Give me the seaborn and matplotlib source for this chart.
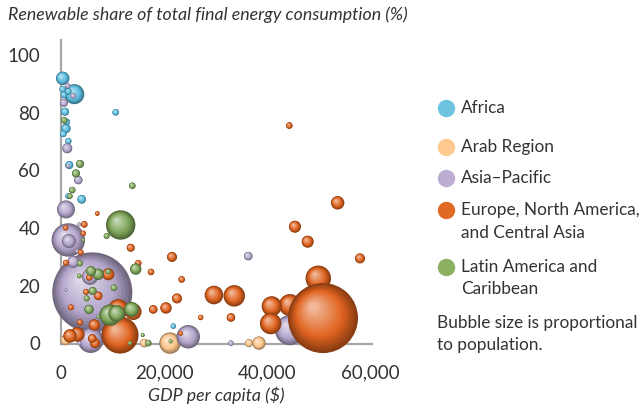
import numpy as np
import pandas as pd
import seaborn as sns
import matplotlib.pyplot as plt
from matplotlib.colors import to_rgb

# data: GDP per capita ($), renewable share (%), population (millions, from bubble area)
# rows are in drawing order (later rows sit on top)
africa_gdp = [2580, 330, 970, 4020, 780, 1610, 330, 1420, 580, 1110, 450, 1420, 10620, 3830, 1420, 21810]
africa_share = [86.4, 91.9, 74.5, 49.9, 80.3, 61.8, 88.1, 87.3, 86.1, 76.8, 72.6, 70.1, 80.1, 62.4, 51.0, 5.9]
africa_pop = [26, 11.7, 5.7, 4.8, 4.2, 4.2, 2.8, 2.8, 2.8, 2.8, 2.8, 2.8, 2.8, 2.3, 2.3, 1.9]

arab_gdp = [21170, 36510, 38450, 870, 16180]
arab_share = [0, 0, 0, 1.0, 0]
arab_pop = [29.8, 4.2, 11.7, 6.5, 4.8]

asia_gdp = [6080, 1420, 44470, 5770, 24720, 970, 5630, 1550, 2390, 1220, 3360, 36370, 580,
            33010, 1300, 2390, 1420, 3550, 3170, 3550, 970]
asia_share = [17.6, 35.8, 4.5, 1.0, 2.2, 46.4, 23.0, 35.4, 28.2, 67.6, 56.6, 30.2, 83.4,
              0, 89.3, 85.8, 61.5, 41.2, 31.9, 0, 18.4]
asia_pop = [416, 72.5, 58.5, 42, 35.6, 21, 16.6, 12.7, 9.4, 6.5, 4.8, 4.8, 4.2,
            1.9, 1.9, 1.9, 1.0, 1.0, 1.0, 1.0, 0.6]

europe_gdp = [11460, 49970, 44470, 33650, 40920, 40720, 11130, 29710, 14040, 3170, 53730, 1750,
              45440, 47910, 9190, 20390, 6470, 58070, 21560, 22530, 6600, 33010, 17920, 7240,
              6080, 13540, 44340, 23440, 15010, 17480, 5500, 4530, 4860, 1940, 3690, 3830,
              970, 27130, 4330, 910, 23250, 7050, 50880]
europe_share = [2.8, 22.5, 13.2, 16.4, 12.8, 6.8, 11.8, 16.7, 10.9, 3.0, 48.7, 2.5,
                40.4, 35.2, 23.9, 12.2, 6.3, 29.4, 29.9, 15.5, 0, 8.9, 11.7, 16.4,
                1.6, 33.1, 75.5, 22.1, 27.7, 24.7, 22.8, 41.2, 17.8, 12.4, 7.2, 31.5,
                27.9, 8.9, 38.1, 40.0, 3.4, 45.0, 8.7]
europe_pop = [89, 42, 31.5, 29.8, 26, 29.8, 26, 22.5, 17.9, 13.9, 11.7, 11.7,
              9.4, 9.4, 9.4, 8.4, 8.4, 6.5, 6.5, 6.5, 6.5, 4.8, 4.8, 4.8,
              4.8, 4.2, 2.8, 2.8, 2.8, 2.8, 2.8, 2.8, 2.3, 2.3, 2.3, 2.3,
              2.3, 1.9, 1.9, 1.9, 1.4, 1.4, 318]

latin_gdp = [11590, 9520, 10820, 13730, 14510, 7240, 5830, 5440, 6160, 3690, 2910, 10290, 16950,
             13850, 2190, 640, 3690, 4990, 8870, 9190, 1750, 3550, 15870, 13400, 21300, 7240, 4330]
latin_share = [41.0, 9.7, 10.3, 11.7, 25.7, 23.9, 25.0, 11.7, 18.1, 62.2, 58.9, 19.2, 0,
               54.6, 53.1, 77.3, 27.7, 15.5, 37.2, 24.8, 51.0, 23.3, 2.8, 0, 0.6, 9.1, 35.8]
latin_pop = [56, 29.8, 17.9, 14.6, 8.4, 8.4, 6.5, 5.7, 4.2, 4.2, 4.2, 2.8, 2.8,
             2.8, 2.8, 2.8, 2.3, 2.3, 2.3, 1.9, 1.9, 1.4, 1.0, 1.0, 1.0, 0.75, 0.75]

regions = ['Africa', 'Arab Region', 'Asia\u2013Pacific',
           'Europe, North America,\nand Central Asia', 'Latin America and\nCaribbean']
region_colors = ['#5bbde0', '#fcc68a', '#b4a6cc', '#e0631f', '#7ea65a']
legend_colors = ['#6ec4e0', '#fdc98f', '#bcaed3', '#e06a24', '#8bb062']

x_ticks = [0, 20000, 40000, 60000]
y_ticks = [0, 20, 40, 60, 80, 100]

frames = []
for name, g, s, p in zip(regions,
                         [africa_gdp, arab_gdp, asia_gdp, europe_gdp, latin_gdp],
                         [africa_share, arab_share, asia_share, europe_share, latin_share],
                         [africa_pop, arab_pop, asia_pop, europe_pop, latin_pop]):
    frames.append(pd.DataFrame({'region': name, 'gdp': g, 'share': s, 'pop': p}))
df = pd.concat(frames, ignore_index=True)

sns.set_style('white')
plt.rcParams['font.family'] = ['Lato', 'DejaVu Sans']

W, H, DPI = 643, 412, 100
fig = plt.figure(figsize=(W / DPI, H / DPI), dpi=DPI)
ax_box = [61 / W, 1 - 344 / H, 311 / W, 304 / H]
ax = fig.add_axes(ax_box)
xlim = (0, 60400)
ylim = (-0.3, 105.2)

# fake sphere shading: every bubble is drawn as a stack of shrinking, lighter discs
pt_per_pop = 8.0
n_layers = 14
ux = (xlim[1] - xlim[0]) / (ax_box[2] * W)
uy = (ylim[1] - ylim[0]) / (ax_box[3] * H)


def shade(base, u):
    b = np.array(to_rgb(base))
    dark = b * 0.62
    light = b * 0.45 + 0.55
    if u < 0.35:
        c = dark + (b - dark) * (u / 0.35)
    else:
        c = b + (light - b) * ((u - 0.35) / 0.65)
    return tuple(np.clip(c, 0, 1))


palette = {}
rows = []
for r in df.itertuples():
    base = region_colors[regions.index(r.region)]
    r_px = np.sqrt(pt_per_pop * r.pop) / 2 / 0.72
    for j in range(n_layers):
        u = j / (n_layers - 1)
        key = f'{r.region}|{j}'
        palette[key] = shade(base, u)
        rf = 1 - 0.88 * u
        rows.append({'gdp': r.gdp - 0.28 * u * r_px * ux,
                     'share': r.share + 0.32 * u * r_px * uy,
                     'area': r.pop * rf ** 2,
                     'shade': key})
layers = pd.DataFrame(rows)
max_area = df['pop'].max()

sns.scatterplot(data=layers, x='gdp', y='share', hue='shade', palette=palette,
                size='area', sizes=(0, pt_per_pop * max_area), size_norm=(0, max_area),
                linewidth=0, legend=False, clip_on=False, ax=ax)

ax.set_xlim(*xlim)
ax.set_ylim(*ylim)
ax.set_xticks(x_ticks)
ax.set_xticklabels([f'{v:,}' for v in x_ticks])
ax.set_yticks(y_ticks)
ax.tick_params(length=0, labelsize=13.5, labelcolor='#333333')
ax.tick_params(axis='x', pad=15)
ax.tick_params(axis='y', pad=15)
sns.despine(ax=ax)
for side in ['left', 'bottom']:
    ax.spines[side].set_color('#a6a6a6')
    ax.spines[side].set_linewidth(1.6)
    ax.spines[side].set_zorder(0)
ax.set_ylabel('')
ax.set_xlabel('GDP per capita ($)', fontsize=12.8, style='italic', color='#333333', labelpad=3)

fig.text(8 / W, 1 - 15 / H, 'Renewable share of total final energy consumption (%)',
         fontsize=12.8, style='italic', color='#333333', va='center', ha='left')

# legend built by hand
legend_y = [108, 147, 178, 210, 267]
for name, c, y in zip(regions, legend_colors, legend_y):
    ax.plot([446 / W], [1 - y / H], marker='o', markersize=11.5, color=c,
            transform=fig.transFigure, clip_on=False)
    for k, line in enumerate(name.split('\n')):
        fig.text(461 / W, 1 - (y + 22.5 * k) / H, line, fontsize=12.4,
                 color='#333333', va='center', ha='left')
fig.text(437 / W, 1 - 323 / H, 'Bubble size is proportional', fontsize=12.4,
         color='#333333', va='center', ha='left')
fig.text(437 / W, 1 - 345 / H, 'to population.', fontsize=12.4,
         color='#333333', va='center', ha='left')

fig.savefig('out.png', dpi=DPI)
